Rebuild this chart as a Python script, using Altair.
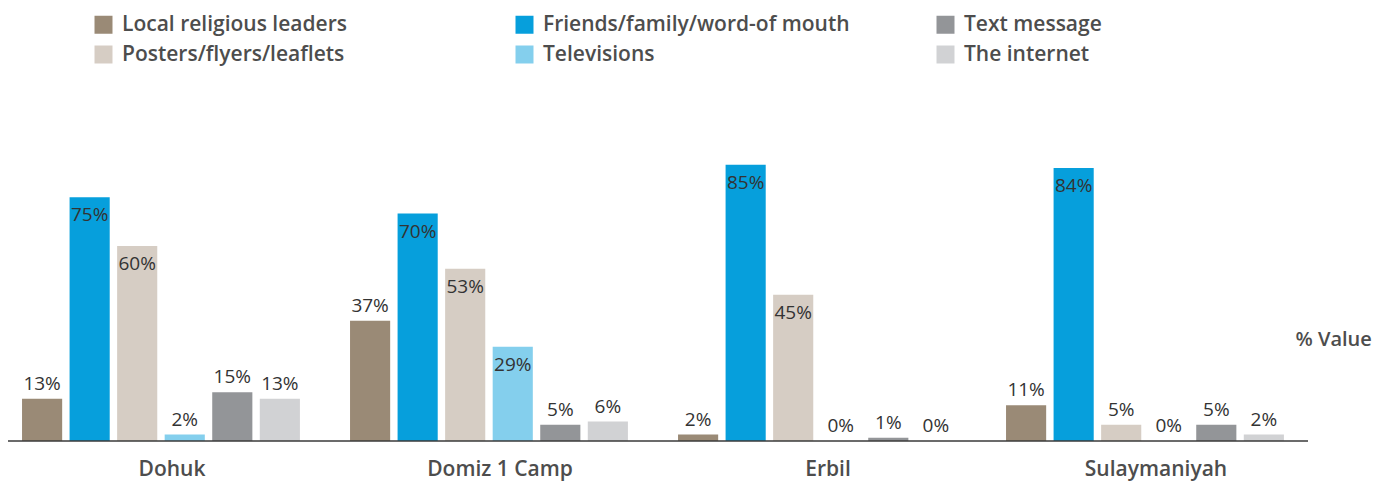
import altair as alt
import pandas as pd

regions = ["Dohuk", "Domiz 1 Camp", "Erbil", "Sulaymaniyah"]
series = [
    "Local religious leaders",
    "Friends/family/word-of mouth",
    "Posters/flyers/leaflets",
    "Televisions",
    "Text message",
    "The internet",
]
legend_order = [
    "Local religious leaders",
    "Friends/family/word-of mouth",
    "Text message",
    "Posters/flyers/leaflets",
    "Televisions",
    "The internet",
]
colors = {
    "Local religious leaders": "#9a8a76",
    "Friends/family/word-of mouth": "#069fdc",
    "Posters/flyers/leaflets": "#d6cdc4",
    "Televisions": "#84cfed",
    "Text message": "#939598",
    "The internet": "#d1d2d4",
}
local_leaders = [13, 37, 2, 11]
friends_family = [75, 70, 85, 84]
posters = [60, 53, 45, 5]
televisions = [2, 29, 0, 0]
text_message = [15, 5, 1, 5]
internet = [13, 6, 0, 2]

values = [local_leaders, friends_family, posters, televisions, text_message, internet]
rows = []
for s, vals in zip(series, values):
    for r, v in zip(regions, vals):
        rows.append({"region": r, "series": s, "value": v})
df = pd.DataFrame(rows)

FONT = "Open Sans"
W = 1312

x = alt.X(
    "region:N",
    sort=regions,
    scale=alt.Scale(paddingInner=0, paddingOuter=0),
    axis=alt.Axis(
        title=None, domain=False, ticks=False, labelAngle=0, labelPadding=34,
        labelBaseline="alphabetic",
        labelFontSize=21, labelFontWeight=600, labelColor="#4d4d4d", labelFont=FONT,
    ),
)
xoff = alt.XOffset(
    "series:N", sort=series,
    scale=alt.Scale(paddingInner=0.156, paddingOuter=0.527, align=0.28),
)
y = alt.Y(
    "value:Q",
    scale=alt.Scale(domain=[0, 100], nice=False),
    axis=alt.Axis(
        orient="right", labels=False, ticks=False, domain=False, grid=False,
        title="% Value", titleAngle=0, titleAlign="left", titleBaseline="middle",
        titleX=-25, titleY=223, titleFontSize=20, titleFontWeight=600,
        titleColor="#4d4d4d", titleFont=FONT,
    ),
)
color = alt.Color(
    "series:N",
    scale=alt.Scale(domain=legend_order, range=[colors[s] for s in legend_order]),
    legend=alt.Legend(
        title=None, orient="none", legendX=85, legendY=-102, columns=3,
        direction="horizontal", gridAlign="all", columnPadding=85, rowPadding=8,
        symbolType="square", symbolSize=324, symbolStrokeWidth=0, symbolOpacity=1,
        labelFontSize=21, labelFontWeight=600, labelColor="#4d4d4d", labelFont=FONT,
        labelOffset=8, labelLimit=600, padding=0,
    ),
)

base = alt.Chart(df)

bars = base.mark_bar(opacity=1).encode(x=x, xOffset=xoff, y=y, color=color)

inside_cond = "datum.series != 'Local religious leaders' && datum.value >= 20"

labels_in = base.transform_filter(inside_cond).transform_calculate(
    label="datum.value + '%'"
).mark_text(
    baseline="alphabetic", dy=24, fontSize=19, font=FONT, color="#333333"
).encode(x=x, xOffset=xoff, y=alt.Y("value:Q"), text="label:N")

labels_out = base.transform_filter("!(" + inside_cond + ")").transform_calculate(
    label="datum.value + '%'"
).mark_text(
    baseline="alphabetic", dy=-9, fontSize=19, font=FONT, color="#333333"
).encode(x=x, xOffset=xoff, y=alt.Y("value:Q"), text="label:N")

baseline = alt.Chart(pd.DataFrame({"v": [0]})).mark_rule(
    color="#3a3a3a", strokeWidth=1.5
).encode(y=alt.Y("v:Q"), x=alt.value(0), x2=alt.value(1300))

chart = alt.layer(bars, baseline, labels_in, labels_out).properties(
    width=W, height=325,
    autosize=alt.AutoSizeParams(type="none"),
    padding={"left": 0, "top": 108, "right": 58, "bottom": 40},
).configure_view(stroke=None)

chart.save("out.html", embed_options={"renderer": "svg", "actions": False})
